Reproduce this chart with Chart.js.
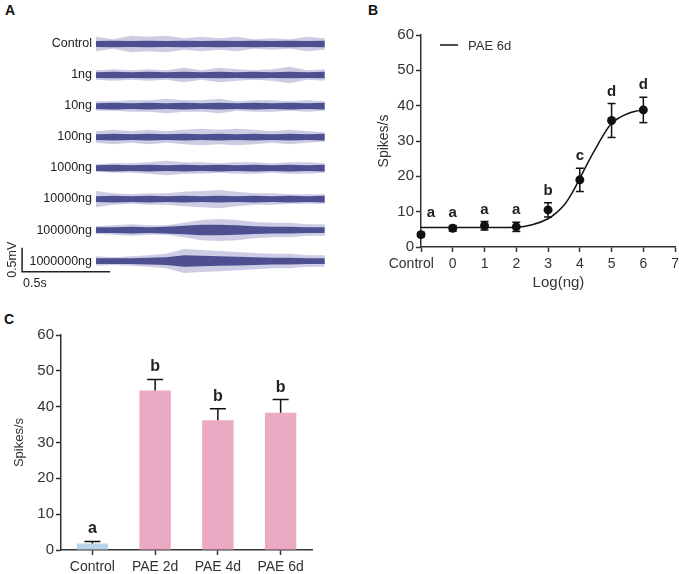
<!DOCTYPE html>
<html>
<head>
<meta charset="utf-8">
<script src="https://cdn.jsdelivr.net/npm/chart.js@4/dist/chart.umd.min.js"></script>
<style>
  body { margin: 0; width: 679px; height: 574px; position: relative; background: #fff; overflow: hidden;
         font-family: 'Liberation Sans', Arial, sans-serif; }
  .panel { position: absolute; font-weight: bold; font-size: 14px; color: #111; }
  canvas { position: absolute; }
</style>
</head>
<body>
<div class="panel" style="left:5px;top:2px">A</div>
<div class="panel" style="left:368px;top:2px">B</div>
<div class="panel" style="left:4px;top:311px">C</div>
<canvas id="traces" width="335" height="280" style="left:0;top:20px"></canvas>
<canvas id="doseChart" width="343" height="300" style="left:340px;top:0"></canvas>
<canvas id="barChart" width="340" height="274" style="left:0;top:300px"></canvas>
<script>
// ---- panel A : recordings (envelope of each trace, mV)
const traceLabels = ['Control', '1ng', '10ng', '100ng', '1000ng', '10000ng', '100000ng', '1000000ng'];
const sampleTimes = [0, 0.1, 0.2, 0.3, 0.4, 0.5, 0.6, 0.7, 0.8, 0.9, 1.0, 1.1, 1.2, 1.3];
const spikesControl = [0.15, 0.10, 0.17, 0.15, 0.17, 0.12, 0.15, 0.12, 0.15, 0.10, 0.12, 0.10, 0.15, 0.12];
const spikes1ng = [0.10, 0.12, 0.10, 0.12, 0.10, 0.15, 0.10, 0.15, 0.12, 0.10, 0.12, 0.17, 0.10, 0.12];
const spikes10ng = [0.10, 0.10, 0.12, 0.12, 0.15, 0.12, 0.12, 0.15, 0.10, 0.12, 0.12, 0.10, 0.12, 0.10];
const spikes100ng = [0.12, 0.15, 0.12, 0.15, 0.12, 0.15, 0.17, 0.15, 0.17, 0.15, 0.12, 0.15, 0.12, 0.10];
const spikes1000ng = [0.08, 0.10, 0.10, 0.12, 0.15, 0.12, 0.12, 0.10, 0.12, 0.12, 0.10, 0.12, 0.12, 0.10];
const spikes10000ng = [0.17, 0.12, 0.10, 0.12, 0.12, 0.15, 0.17, 0.19, 0.15, 0.12, 0.12, 0.10, 0.10, 0.10];
const spikes100000ng = [0.08, 0.10, 0.12, 0.10, 0.10, 0.15, 0.21, 0.23, 0.21, 0.17, 0.15, 0.15, 0.12, 0.12];
const spikes1000000ng = [0.10, 0.08, 0.10, 0.12, 0.15, 0.25, 0.23, 0.21, 0.19, 0.17, 0.15, 0.15, 0.12, 0.12];
const coreLow = [0.06, 0.07, 0.06, 0.07, 0.06, 0.07, 0.06, 0.07, 0.06, 0.07, 0.06, 0.07, 0.06, 0.07];
const coreBurst5 = [0.06, 0.06, 0.07, 0.06, 0.07, 0.09, 0.11, 0.11, 0.10, 0.08, 0.07, 0.07, 0.06, 0.06];
const coreBurst6 = [0.06, 0.06, 0.06, 0.07, 0.08, 0.12, 0.11, 0.10, 0.09, 0.08, 0.07, 0.07, 0.06, 0.06];
const traceSpikes = [spikesControl, spikes1ng, spikes10ng, spikes100ng, spikes1000ng, spikes10000ng, spikes100000ng, spikes1000000ng];
const traceCores = [coreLow, coreLow, coreLow, coreLow, coreLow, coreLow, coreBurst5, coreBurst6];
const scaleBarSeconds = 0.5;
const scaleBarMv = 0.5;

// ---- panel B : dose response (PAE 6d)
const doseTicks = [-1, 0, 1, 2, 3, 4, 5, 6, 7];
const doses = [-1, 0, 1, 2, 3, 4, 5, 6];          // -1 = Control
const doseMeans = [3.5, 5.3, 6.0, 5.7, 10.5, 19.0, 35.8, 38.8];
const doseErrors = [0.6, 0.8, 1.2, 1.3, 2.0, 3.3, 4.8, 3.6];
const doseLetters = ['a', 'a', 'a', 'a', 'b', 'c', 'd', 'd'];
const fitX = [-1, 0, 1, 2, 2.5, 3, 3.25, 3.5, 3.75, 4, 4.25, 4.5, 4.75, 5, 5.25, 5.5, 5.75, 6];
const fitY = [5.5, 5.5, 5.5, 5.6, 6.3, 8.0, 9.6, 11.8, 15.2, 19.4, 23.8, 27.9, 31.8, 35.0, 36.6, 37.7, 38.4, 38.9];

// ---- panel C : groups
const groups = ['Control', 'PAE 2d', 'PAE 4d', 'PAE 6d'];
const groupMeans = [1.8, 44.5, 36.2, 38.3];
const groupErrors = [0.6, 3.1, 3.2, 3.7];
const groupLetters = ['a', 'b', 'b', 'b'];

const FONT = "'Liberation Sans', Arial, sans-serif";
const INK = '#333';
Chart.defaults.font.family = FONT;
Chart.defaults.color = INK;

// ---------- A
const rowStep = 0.646;
const traceSets = [];
traceLabels.forEach((lab, i) => {
  const base = -i * rowStep;
  const sp = traceSpikes[i], co = traceCores[i];
  traceSets.push({ data: sampleTimes.map((t, k) => ({ x: t, y: base + sp[k] })), backgroundColor: 'rgba(120,120,185,0.38)', fill: '+1' });
  traceSets.push({ data: sampleTimes.map((t, k) => ({ x: t, y: base - sp[k] })), fill: false });
  traceSets.push({ data: sampleTimes.map((t, k) => ({ x: t, y: base + co[k] })), backgroundColor: '#34367a', fill: '+1' });
  traceSets.push({ data: sampleTimes.map((t, k) => ({ x: t, y: base - co[k] })), fill: false });
});
const barX = -0.42, barY = -4.745;
traceSets.push({
  data: [{ x: barX, y: barY + scaleBarMv }, { x: barX, y: barY }, { x: barX + scaleBarSeconds, y: barY }],
  borderColor: '#222', borderWidth: 1.5, fill: false, tension: 0
});

const traceLabelsPlugin = {
  id: 'traceLabels',
  afterDraw(chart) {
    const { ctx, scales: { x, y } } = chart;
    ctx.save();
    ctx.fillStyle = '#222';
    ctx.font = '12.5px ' + FONT;
    ctx.textAlign = 'right';
    ctx.textBaseline = 'middle';
    traceLabels.forEach((lab, i) => ctx.fillText(lab, x.getPixelForValue(0) - 4, y.getPixelForValue(-i * rowStep)));
    ctx.textAlign = 'left';
    ctx.fillText(scaleBarSeconds + 's', x.getPixelForValue(barX) + 1, y.getPixelForValue(barY) + 12);
    ctx.translate(x.getPixelForValue(barX) - 10, y.getPixelForValue(barY + scaleBarMv / 2));
    ctx.rotate(-Math.PI / 2);
    ctx.textAlign = 'center';
    ctx.fillText(scaleBarMv + 'mV', 0, 0);
    ctx.restore();
  }
};

new Chart(document.getElementById('traces'), {
  type: 'line',
  data: { datasets: traceSets },
  options: {
    responsive: false, animation: false,
    elements: { point: { radius: 0 }, line: { borderWidth: 0, tension: 0 } },
    layout: { padding: 0 },
    plugins: { legend: { display: false }, tooltip: { enabled: false } },
    scales: {
      x: { type: 'linear', display: false, min: -96 / 176, max: (335 - 96) / 176 },
      y: { type: 'linear', display: false, min: 0.5 - 280 / 48, max: 0.5 }
    }
  },
  plugins: [traceLabelsPlugin]
});

// ---------- shared helpers
function axisStyle(size) {
  return {
    border: { color: INK, width: 1.5 },
    grid: { drawOnChartArea: false, drawTicks: true, tickLength: 5, tickColor: INK, tickWidth: 1.5 },
    ticks: { font: { size: size }, color: INK, padding: 3, maxRotation: 0, minRotation: 0, autoSkip: false }
  };
}
function drawErr(ctx, xp, yTop, yFrom, cap) {
  ctx.beginPath();
  ctx.moveTo(xp, yFrom); ctx.lineTo(xp, yTop);
  ctx.moveTo(xp - cap / 2, yTop); ctx.lineTo(xp + cap / 2, yTop);
  ctx.stroke();
}

// ---------- B
const doseOverlay = {
  id: 'doseOverlay',
  afterDatasetsDraw(chart) {
    const { ctx, scales: { x, y } } = chart;
    ctx.save();
    ctx.strokeStyle = '#111';
    ctx.lineWidth = 1.5;
    doses.forEach((d, i) => {
      const xp = x.getPixelForValue(d);
      drawErr(ctx, xp, y.getPixelForValue(doseMeans[i] + doseErrors[i]), y.getPixelForValue(doseMeans[i] - doseErrors[i]), 8);
      ctx.beginPath();
      ctx.moveTo(xp - 4, y.getPixelForValue(doseMeans[i] - doseErrors[i]));
      ctx.lineTo(xp + 4, y.getPixelForValue(doseMeans[i] - doseErrors[i]));
      ctx.stroke();
    });
    ctx.fillStyle = '#222';
    ctx.font = 'bold 15px ' + FONT;
    ctx.textAlign = 'center';
    ctx.textBaseline = 'alphabetic';
    doses.forEach((d, i) => {
      let xp = x.getPixelForValue(d);
      let yp = y.getPixelForValue(doseMeans[i] + doseErrors[i]) - 8;
      if (i === 0) { xp += 10; yp = y.getPixelForValue(8.5); }
      ctx.fillText(doseLetters[i], xp, yp);
    });
    // legend
    const lx = chart.chartArea.left + 19, ly = chart.chartArea.top + 10;
    ctx.beginPath();
    ctx.moveTo(lx, ly); ctx.lineTo(lx + 18, ly);
    ctx.stroke();
    ctx.font = '13px ' + FONT;
    ctx.fillStyle = INK;
    ctx.textAlign = 'left';
    ctx.textBaseline = 'middle';
    ctx.fillText(chart.data.datasets[0].label, lx + 28, ly + 1);
    ctx.restore();
  }
};

const bx = axisStyle(14), byAx = axisStyle(15);
new Chart(document.getElementById('doseChart'), {
  type: 'scatter',
  data: {
    datasets: [
      { type: 'line', label: 'PAE 6d', data: fitX.map((v, i) => ({ x: v, y: fitY[i] })), borderColor: '#111', borderWidth: 1.5,
        pointRadius: 0, cubicInterpolationMode: 'monotone', fill: false, clip: false },
      { label: 'mean', data: doses.map((v, i) => ({ x: v, y: doseMeans[i] })), pointRadius: 4.5, backgroundColor: '#111',
        borderWidth: 0, clip: false }
    ]
  },
  options: {
    responsive: false, animation: false,
    layout: { padding: { left: 32, right: 0, top: 35, bottom: 0 } },
    plugins: { legend: { display: false }, tooltip: { enabled: false } },
    scales: {
      x: Object.assign(bx, {
        type: 'linear', min: -1, max: 7,
        afterBuildTicks: s => { s.ticks = doseTicks.map(v => ({ value: v })); },
        ticks: Object.assign(bx.ticks, { padding: 4, callback: v => (v === -1 ? 'Control     ' : v) }),
        title: { display: true, text: '     Log(ng)', font: { size: 15 }, color: INK, padding: { top: 0, bottom: 8 } },
        afterFit: s => { s.height = 53; }
      }),
      y: Object.assign(byAx, {
        min: 0, max: 60,
        ticks: Object.assign(byAx.ticks, { stepSize: 10, padding: 2 }),
        title: { display: true, text: 'Spikes/s', font: { size: 14 }, color: INK, padding: 4 },
        afterFit: s => { s.width = 49; }
      })
    }
  },
  plugins: [doseOverlay]
});

// ---------- C
const groupOverlay = {
  id: 'groupOverlay',
  afterDatasetsDraw(chart) {
    const { ctx, scales: { x, y } } = chart;
    ctx.save();
    ctx.strokeStyle = '#111';
    ctx.lineWidth = 1.5;
    ctx.fillStyle = '#222';
    ctx.font = 'bold 16px ' + FONT;
    ctx.textAlign = 'center';
    groups.forEach((g, i) => {
      const xp = x.getPixelForValue(i);
      const top = y.getPixelForValue(groupMeans[i] + groupErrors[i]);
      drawErr(ctx, xp, top, y.getPixelForValue(groupMeans[i]), 16);
      ctx.fillText(groupLetters[i], xp, top - 8);
    });
    ctx.restore();
  }
};

const cx = axisStyle(14), cy = axisStyle(15);
new Chart(document.getElementById('barChart'), {
  type: 'bar',
  data: {
    labels: groups,
    datasets: [{ data: groupMeans, backgroundColor: ['#b9d5ec', '#eca9c3', '#eca9c3', '#eca9c3'],
                 categoryPercentage: 1, barPercentage: 0.5 }]
  },
  options: {
    responsive: false, animation: false,
    layout: { padding: { left: 8, right: 28, top: 35, bottom: 0 } },
    plugins: { legend: { display: false }, tooltip: { enabled: false } },
    scales: {
      x: Object.assign(cx, {
        grid: Object.assign(cx.grid, { offset: false }),
        ticks: Object.assign(cx.ticks, { padding: 4 }),
        afterFit: s => { s.height = 24; }
      }),
      y: Object.assign(cy, {
        min: 0, max: 60,
        ticks: Object.assign(cy.ticks, { stepSize: 10, padding: 2 }),
        title: { display: true, text: 'Spikes/s', font: { size: 13 }, color: INK, padding: 4 },
        afterFit: s => { s.width = 53; }
      })
    }
  },
  plugins: [groupOverlay]
});
</script>
</body>
</html>
